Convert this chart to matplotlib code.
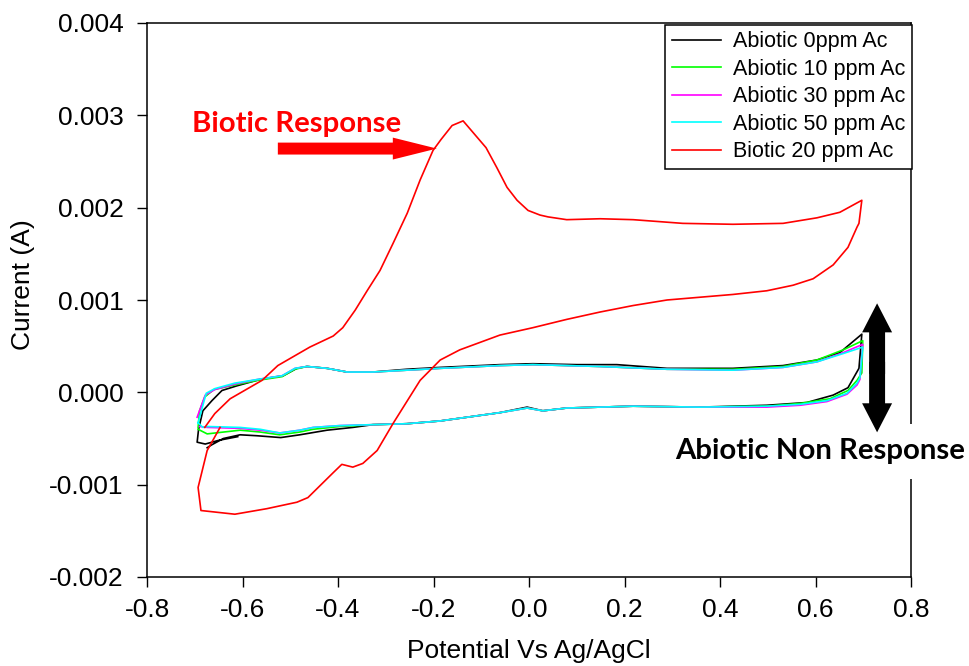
import matplotlib
matplotlib.use("Agg")
import matplotlib.pyplot as plt
from matplotlib.ticker import FixedLocator, FuncFormatter

plt.rcParams['font.family'] = ['Liberation Sans', 'DejaVu Sans']
plt.rcParams['axes.unicode_minus'] = False

# Abiotic 0 ppm (black)
abio0_x = [-0.610, -0.650, -0.678, -0.695, -0.692, -0.683, -0.664, -0.643, -0.612, -0.563,
           -0.515, -0.486, -0.465, -0.423, -0.381, -0.327, -0.256, -0.186, -0.061, 0.008,
           0.100, 0.184, 0.289, 0.427, 0.532, 0.603, 0.651, 0.697,
           0.691, 0.668, 0.637, 0.582, 0.498, 0.358, 0.218, 0.079, 0.029, -0.004,
           -0.061, -0.186, -0.256, -0.327, -0.369, -0.423, -0.480, -0.520, -0.570, -0.605,
           -0.640, -0.665, -0.674]
abio0_y = [-0.00048, -0.00052, -0.00056, -0.00054, -0.00040, -0.00020, -0.00009, 0.00002, 0.00007, 0.00014,
           0.00018, 0.00026, 0.00028, 0.00026, 0.00022, 0.00022, 0.00025, 0.00027, 0.00030, 0.00031,
           0.00030, 0.00030, 0.00026, 0.00026, 0.00029, 0.00035, 0.00043, 0.00063,
           0.00026, 0.00005, -0.00003, -0.00011, -0.00014, -0.00016, -0.00015, -0.00017, -0.00020, -0.00016,
           -0.00022, -0.00031, -0.00034, -0.00035, -0.00038, -0.00041, -0.00046, -0.00049, -0.00047, -0.00046,
           -0.00050, -0.00057, -0.00060]

# Abiotic 10 ppm (green)
abio10_x = [-0.693, -0.690, -0.679, -0.660, -0.616, -0.568, -0.517, -0.490, -0.465, -0.423,
            -0.381, -0.327, -0.256, -0.186, -0.061, 0.008, 0.149, 0.289, 0.427, 0.532,
            0.603, 0.658, 0.699,
            0.697, 0.687, 0.668, 0.630, 0.568, 0.498, 0.358, 0.218, 0.079, 0.029, -0.004,
            -0.061, -0.186, -0.256, -0.327, -0.396, -0.452, -0.480, -0.522, -0.563, -0.605,
            -0.674, -0.693]
abio10_y = [-0.00038, -0.00020, -0.00005, 0.00003, 0.00008, 0.00013, 0.00017, 0.00025, 0.00028, 0.00026,
            0.00022, 0.00022, 0.00024, 0.00026, 0.00029, 0.00030, 0.00028, 0.00025, 0.00025, 0.00028,
            0.00035, 0.00046, 0.00056,
            0.00021, 0.00013, 0.00002, -0.00007, -0.00012, -0.00015, -0.00016, -0.00015, -0.00017, -0.00020, -0.00017,
            -0.00022, -0.00031, -0.00034, -0.00035, -0.00037, -0.00040, -0.00043, -0.00046, -0.00043, -0.00041,
            -0.00045, -0.00040]

# Abiotic 30 ppm (magenta)
abio30_x = [-0.695, -0.678, -0.658, -0.616, -0.568, -0.517, -0.490, -0.465, -0.423, -0.381,
            -0.327, -0.256, -0.186, -0.061, 0.008, 0.149, 0.289, 0.427, 0.532, 0.603,
            0.658, 0.699,
            0.693, 0.687, 0.666, 0.624, 0.568, 0.498, 0.358, 0.218, 0.079, 0.029, -0.004,
            -0.061, -0.186, -0.256, -0.327, -0.396, -0.452, -0.480, -0.522, -0.563, -0.605,
            -0.674, -0.690]
abio30_y = [-0.00027, -0.00003, 0.00003, 0.00009, 0.00014, 0.00018, 0.00026, 0.00028, 0.00026, 0.00022,
            0.00022, 0.00024, 0.00026, 0.00029, 0.00030, 0.00028, 0.00025, 0.00024, 0.00027, 0.00033,
            0.00043, 0.00052,
            0.00014, 0.00008, -0.00002, -0.00010, -0.00014, -0.00016, -0.00016, -0.00015, -0.00017, -0.00020, -0.00017,
            -0.00022, -0.00031, -0.00034, -0.00035, -0.00036, -0.00038, -0.00041, -0.00044, -0.00041, -0.00039,
            -0.00038, -0.00037]

# Abiotic 50 ppm (cyan)
abio50_x = [-0.693, -0.676, -0.658, -0.616, -0.568, -0.517, -0.490, -0.465, -0.423, -0.381,
            -0.327, -0.256, -0.186, -0.061, 0.008, 0.149, 0.289, 0.427, 0.532, 0.603,
            0.658, 0.699,
            0.693, 0.687, 0.666, 0.624, 0.568, 0.498, 0.358, 0.218, 0.079, 0.029, -0.004,
            -0.061, -0.186, -0.256, -0.327, -0.396, -0.452, -0.480, -0.522, -0.563, -0.605,
            -0.674, -0.683, -0.693]
abio50_y = [-0.00033, -0.00001, 0.00004, 0.00010, 0.00014, 0.00018, 0.00026, 0.00028, 0.00026, 0.00022,
            0.00022, 0.00024, 0.00026, 0.00029, 0.00030, 0.00028, 0.00025, 0.00024, 0.00027, 0.00033,
            0.00042, 0.00049,
            0.00016, 0.00010, -0.00001, -0.00009, -0.00013, -0.00015, -0.00016, -0.00015, -0.00017, -0.00020, -0.00017,
            -0.00022, -0.00031, -0.00034, -0.00035, -0.00036, -0.00038, -0.00041, -0.00044, -0.00040, -0.00038,
            -0.00037, -0.00038, -0.00033]

# Biotic 20 ppm (red)
bio20_x = [-0.647, -0.674, -0.693, -0.687, -0.616, -0.549, -0.486, -0.463, -0.410, -0.392,
           -0.369, -0.348, -0.318, -0.285, -0.228, -0.186, -0.145, -0.061, 0.008, 0.079,
           0.149, 0.218, 0.289, 0.358, 0.427, 0.498, 0.553, 0.595, 0.637, 0.668,
           0.687, 0.691, 0.697,
           0.651, 0.603, 0.532, 0.427, 0.322, 0.218, 0.149, 0.079, 0.040, 0.023,
           -0.002, -0.025, -0.046, -0.067, -0.090, -0.138, -0.161, -0.184, -0.201, -0.228,
           -0.255, -0.285, -0.312, -0.339, -0.364, -0.390, -0.410, -0.459, -0.526, -0.559,
           -0.626, -0.658, -0.679]
bio20_y = [-0.00038, -0.00063, -0.00103, -0.00128, -0.00132, -0.00126, -0.00119, -0.00114, -0.00087, -0.00078,
           -0.00081, -0.00077, -0.00063, -0.00034, 0.00013, 0.00035, 0.00046, 0.00062, 0.00070, 0.00079,
           0.00087, 0.00094, 0.00100, 0.00103, 0.00106, 0.00110, 0.00116, 0.00123, 0.00138, 0.00157,
           0.00179, 0.00183, 0.00208,
           0.00195, 0.00189, 0.00183, 0.00182, 0.00183, 0.00187, 0.00188, 0.00187, 0.00190, 0.00192,
           0.00197, 0.00208, 0.00222, 0.00243, 0.00265, 0.00294, 0.00289, 0.00274, 0.00262, 0.00230,
           0.00194, 0.00161, 0.00132, 0.00110, 0.00089, 0.00070, 0.00061, 0.00049, 0.00029, 0.00013,
           -0.00007, -0.00023, -0.00038]

x_ticks = [-0.8, -0.6, -0.4, -0.2, 0.0, 0.2, 0.4, 0.6, 0.8]
y_ticks = [-0.002, -0.001, 0.000, 0.001, 0.002, 0.003, 0.004]

fig = plt.figure(figsize=(9.69, 6.66), dpi=100)
ax = fig.add_axes([147 / 969, 89 / 666, 764 / 969, 554 / 666])

ax.plot(abio0_x, abio0_y, color='black', lw=1.2, label='Abiotic 0ppm Ac')
ax.plot(abio10_x, abio10_y, color='#00ff00', lw=1.2, label='Abiotic 10 ppm Ac')
ax.plot(abio30_x, abio30_y, color='#ff00ff', lw=1.2, label='Abiotic 30 ppm Ac')
ax.plot(abio50_x, abio50_y, color='#00ffff', lw=1.2, label='Abiotic 50 ppm Ac')
ax.plot(bio20_x, bio20_y, color='#ff0000', lw=1.2, label='Biotic 20 ppm Ac')

ax.set_xlim(-0.8, 0.8)
ax.set_ylim(-0.002, 0.004)
ax.xaxis.set_major_locator(FixedLocator(x_ticks))
ax.yaxis.set_major_locator(FixedLocator(y_ticks))
ax.xaxis.set_major_formatter(FuncFormatter(lambda v, p: f"{v:.1f}".replace("-0.0", "0.0")))
ax.yaxis.set_major_formatter(FuncFormatter(lambda v, p: f"{v:.3f}".replace("-0.000", "0.000")))
ax.tick_params(direction='out', length=7, width=1, labelsize=19)
ax.tick_params(axis='x', pad=8)
ax.tick_params(axis='y', pad=10)
for s in ax.spines.values():
    s.set_linewidth(1.1)

ax.set_xlabel('Potential Vs Ag/AgCl', fontsize=19)
ax.set_ylabel('Current (A)', fontsize=19)
ax.xaxis.set_label_coords(0.5, -0.112)
ax.yaxis.set_label_coords(-0.147, 0.527)

leg = ax.legend(loc='upper right', bbox_to_anchor=(912 / 969, 641 / 666),
                bbox_transform=fig.transFigure, borderaxespad=0, fontsize=15.5,
                fancybox=False, framealpha=1, edgecolor='black',
                handlelength=2.3, handletextpad=0.55, labelspacing=0.3, borderpad=0.3)
leg.get_frame().set_linewidth(1.1)

# annotations
ax.text(-0.487, 0.002817, 'Biotic Response', color='#ff0000', fontsize=21.2,
        fontweight='bold', family=['Lato', 'DejaVu Sans'], ha='center', va='baseline')
ax.annotate('', xy=(-0.193, 0.00264), xytext=(-0.526, 0.00264),
            arrowprops=dict(arrowstyle='simple,head_length=31.7,head_width=15.8,tail_width=8.6',
                            mutation_scale=1, color='#ff0000', shrinkA=0, shrinkB=0, lw=0))

ax.text(0.609, -0.000726, 'Abiotic Non Response', color='black', fontsize=21.2,
        fontweight='bold', family=['Lato', 'DejaVu Sans'], ha='center', va='baseline',
        zorder=3, bbox=dict(boxstyle='square,pad=0.5', fc='white', ec='none'))
for y_end, y_start in ((0.000964, 0.00020), (-0.000433, 0.00033)):
    ax.annotate('', xy=(0.729, y_end), xytext=(0.729, y_start),
                arrowprops=dict(arrowstyle='simple,head_length=20.9,head_width=21.6,tail_width=11.5',
                                mutation_scale=1, color='black', shrinkA=0, shrinkB=0, lw=0),
                zorder=5)

fig.savefig('out.png', dpi=100)
